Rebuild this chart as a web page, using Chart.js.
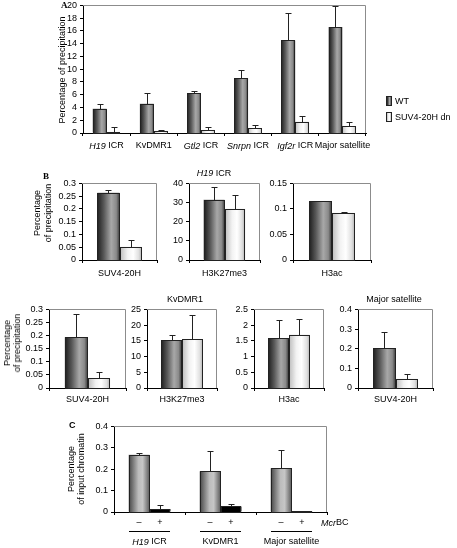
<!DOCTYPE html>
<html lang="en">
<head>
  <meta charset="UTF-8" />
  <title>SUV4-20H ChIP</title>
  <script src="https://cdn.jsdelivr.net/npm/chart.js"></script>
  <style>
    body { margin: 0; background: #fff; }
    #stage { position: relative; width: 457px; height: 548px; overflow: hidden; font-family: "Liberation Sans", Arial, sans-serif; font-size: 9px; color: #000; -webkit-font-smoothing: antialiased; }
    #stage canvas { position: absolute; }
    .t { position: absolute; white-space: nowrap; line-height: 1; z-index: 2; filter: grayscale(1); }
    .c { transform: translate(-50%, -50%); }
    .l { transform: translateY(-50%); }
    .yt { position: absolute; white-space: nowrap; text-align: center; line-height: 10px; z-index: 2; transform: translate(-50%, -50%) rotate(-90deg); }
    .letter { font-family: "Liberation Serif", serif; font-weight: bold; font-size: 9px; }
    .key { position: absolute; width: 6px; height: 10px; border: 1px solid #222; box-sizing: border-box; z-index: 2; }
  </style>
</head>
<body>
  <div id="stage">
    <div class="t letter" style="left:61px;top:1px">A</div>
    <div class="t letter" style="left:43px;top:172px">B</div>
    <div class="t" style="left:69px;top:421px;font-weight:bold;font-size:9px">C</div>

    <div class="t c" style="left:214px;top:173px"><i>H19</i> ICR</div>
    <div class="t c" style="left:185px;top:299px">KvDMR1</div>
    <div class="t c" style="left:394px;top:299px">Major satellite</div>

    <div class="yt" style="left:62px;top:70px">Percentage of precipitation</div>
    <div class="yt" style="left:43px;top:213px;line-height:11px">Percentage<br>of precipitation</div>
    <div class="yt" style="left:12px;top:343px">Percentage<br>of precipitation</div>
    <div class="yt" style="left:76px;top:469px">Percentage<br>of input chromatin</div>

    <div class="key" id="keyWT" style="left:386px;top:96px"></div>
    <div class="t l" style="left:395px;top:101px">WT</div>
    <div class="key" id="keyDn" style="left:386px;top:112px"></div>
    <div class="t l" style="left:395px;top:117px">SUV4-20H dn</div>
  </div>

  <script>
    // A: six loci, WT vs SUV4-20H dn (errors are the + half of the bar)
    const lociA = ['*H19* ICR', 'KvDMR1', '*Gtl2* ICR', '*Snrpn* ICR', '*Igf2r* ICR', 'Major satellite'];
    const wtA = [3.8, 4.6, 6.2, 8.6, 14.5, 16.6];
    const wtErrA = [0.7, 1.7, 0.45, 1.2, 4.3, 3.3];
    const dnA = [0.2, 0.35, 0.5, 0.8, 1.8, 1.05];
    const dnErrA = [0.7, 0.18, 0.4, 0.5, 0.9, 0.75];
    const maxA = 20, stepA = 2;

    // B: antibodies on H19 ICR, KvDMR1 and major satellite
    const antibodies = ['SUV4-20H', 'H3K27me3', 'H3ac'];
    const wtH19 = [0.263, 31.4, 0.115];
    const wtErrH19 = [0.011, 6.5, 0.0015];
    const dnH19 = [0.052, 26.7, 0.0925];
    const dnErrH19 = [0.026, 7.4, 0.0015];
    const maxH19 = [0.3, 40, 0.15];
    const stepH19 = [0.05, 10, 0.05];

    const wtKv = [0.194, 15.2, 1.575];
    const wtErrKv = [0.087, 1.7, 0.585];
    const dnKv = [0.038, 15.5, 1.7];
    const dnErrKv = [0.023, 7.7, 0.51];
    const maxKv = [0.3, 25, 2.5];
    const stepKv = [0.05, 5, 0.5];

    const wtMaj = [0.2025];
    const wtErrMaj = [0.085];
    const dnMaj = [0.047];
    const dnErrMaj = [0.026];
    const maxMaj = 0.4, stepMaj = 0.1;

    // C: McrBC digestion
    const lociC = ['*H19* ICR', 'KvDMR1', 'Major satellite'];
    const treatC = ['–', '+'];
    const minusC = [0.268, 0.191, 0.204];
    const minusErrC = [0.009, 0.092, 0.088];
    const plusC = [0.014, 0.026, 0.003];
    const plusErrC = [0.019, 0.011, 0.001];
    const maxC = 0.4, stepC = 0.1;

    // plot area boxes [left, top, right, bottom] on the page
    const boxA = [83, 5, 366, 133];
    const boxH19 = [[82, 183, 157, 260], [189, 183, 260, 260], [293, 183, 371, 260]];
    const boxKv = [[49, 309, 126, 388], [147, 309, 217, 388], [254, 309, 324, 388]];
    const boxMaj = [358, 309, 433, 388];
    const boxC = [114, 426, 327, 512];

    // cylinder-like shading of the bars
    const shadeWT = [[0, '#1c1c1c'], [0.3, '#595959'], [0.62, '#a8a8a8'], [0.84, '#8a8a8a'], [1, '#333']];
    const shadeDn = [[0, '#bcbcbc'], [0.35, '#f2f2f2'], [0.6, '#fff'], [0.85, '#e0e0e0'], [1, '#b0b0b0']];
    const shadeMinus = [[0, '#484848'], [0.45, '#bcbcbc'], [0.65, '#c6c6c6'], [1, '#555']];
    const shadeBlack = [[0, '#000'], [1, '#000']];

    const FONT = '"Liberation Sans", Arial, sans-serif';
    Chart.defaults.font.family = FONT;
    Chart.defaults.font.size = 9;
    Chart.defaults.color = '#000';

    const stage = document.getElementById('stage');
    const cssGrad = sh => `linear-gradient(to right, ${sh.map(([o, c]) => c + ' ' + o * 100 + '%').join(', ')})`;
    document.getElementById('keyWT').style.background = cssGrad(shadeWT);
    document.getElementById('keyDn').style.background = cssGrad(shadeDn);

    const fmt = v => String(+(+v).toFixed(3));

    // text with *italic* parts
    function drawRich(ctx, str, x, y, align) {
      const parts = str.split('*');
      const fonts = parts.map((p, i) => (i % 2 ? 'italic ' : '') + '9px ' + FONT);
      let w = 0;
      parts.forEach((p, i) => { ctx.font = fonts[i]; w += ctx.measureText(p).width; });
      let cx = align === 'left' ? x : x - w / 2;
      ctx.textAlign = 'left';
      ctx.textBaseline = 'middle';
      ctx.fillStyle = '#000';
      parts.forEach((p, i) => { ctx.font = fonts[i]; ctx.fillText(p, cx, y); cx += ctx.measureText(p).width; });
    }

    // shaded bars + upper error bars
    const barShade = {
      id: 'barShade',
      afterDatasetsDraw(chart) {
        const ctx = chart.ctx, ys = chart.scales.y;
        ctx.save();
        chart.data.datasets.forEach((ds, di) => {
          chart.getDatasetMeta(di).data.forEach((el, i) => {
            const p = el.getProps(['x', 'y', 'base', 'width'], true);
            const L = Math.round(p.x - p.width / 2), R = Math.round(p.x + p.width / 2);
            const T = Math.round(p.y), B = Math.round(p.base);
            const g = ctx.createLinearGradient(L, 0, R, 0);
            ds.shade.forEach(([o, c]) => g.addColorStop(o, c));
            ctx.fillStyle = g;
            ctx.fillRect(L, T, R - L, B - T);
            ctx.strokeStyle = '#222';
            ctx.lineWidth = 1;
            ctx.strokeRect(L + 0.5, T + 0.5, R - L - 1, B - T);
            const top = Math.round(ys.getPixelForValue(ds.data[i] + ds.errs[i])) + 0.5;
            const x = Math.round(p.x) + 0.5;
            ctx.beginPath();
            ctx.moveTo(x, T);
            ctx.lineTo(x, top);
            ctx.moveTo(x - 3, top);
            ctx.lineTo(x + 3, top);
            ctx.stroke();
          });
        });
        ctx.restore();
      }
    };

    // grey top/right border of the plot area
    const frame = {
      id: 'frame',
      afterDraw(chart) {
        const { left, top, right, bottom } = chart.chartArea;
        const ctx = chart.ctx;
        ctx.save();
        ctx.strokeStyle = '#8c8c8c';
        ctx.lineWidth = 1;
        ctx.beginPath();
        ctx.moveTo(left, Math.round(top) + 0.5);
        ctx.lineTo(Math.round(right) - 0.5, Math.round(top) + 0.5);
        ctx.lineTo(Math.round(right) - 0.5, bottom);
        ctx.stroke();
        ctx.restore();
      }
    };
    Chart.register(barShade, frame);

    // category labels of A (with italic gene names)
    const lociLabels = {
      id: 'lociLabels',
      afterDraw(chart) {
        const xs = chart.scales.x, b = chart.chartArea.bottom;
        chart.ctx.save();
        chart.data.labels.forEach((lab, i) => drawRich(chart.ctx, lab, xs.getPixelForValue(i), b + 13));
        chart.ctx.restore();
      }
    };

    // – / + signs, underlines and locus names of C
    const mcrMarks = {
      id: 'mcrMarks',
      afterDraw(chart) {
        const ctx = chart.ctx, xs = chart.scales.x, ca = chart.chartArea, b = ca.bottom;
        const m0 = chart.getDatasetMeta(0).data, m1 = chart.getDatasetMeta(1).data;
        ctx.save();
        chart.data.datasets.forEach((ds, di) => {
          chart.getDatasetMeta(di).data.forEach(el => drawRich(ctx, ds.label, el.x, b + 11));
        });
        ctx.strokeStyle = '#000';
        ctx.lineWidth = 1;
        chart.data.labels.forEach((lab, i) => {
          const a = m0[i], z = m1[i];
          ctx.beginPath();
          ctx.moveTo(Math.round(a.x - a.width / 2), b + 19.5);
          ctx.lineTo(Math.round(z.x + z.width / 2), b + 19.5);
          ctx.stroke();
          drawRich(ctx, lab, xs.getPixelForValue(i), b + 30);
        });
        drawRich(ctx, '*Mcr*BC', ca.right - 6, b + 11, 'left');
        ctx.restore();
      }
    };

    function makeBar(spec) {
      const [l, t, r, b] = spec.box;
      const yW = 30, padT = 8, padR = spec.padR || 6, xH = spec.xH || 22;
      const cv = document.createElement('canvas');
      cv.width = r - l + yW + padR;
      cv.height = b - t + padT + xH;
      cv.style.left = (l - yW) + 'px';
      cv.style.top = (t - padT) + 'px';
      stage.insertBefore(cv, stage.firstChild);
      return new Chart(cv, {
        type: 'bar',
        data: {
          labels: spec.labels,
          datasets: spec.sets.map(s => ({
            label: s.label, data: s.data, errs: s.errs, shade: s.shade,
            backgroundColor: s.color, borderWidth: 0,
            categoryPercentage: 0.59, barPercentage: 1
          }))
        },
        options: {
          responsive: false,
          animation: false,
          devicePixelRatio: 1,
          layout: { padding: { left: 0, top: padT, right: padR, bottom: 0 } },
          plugins: { legend: { display: false }, tooltip: { enabled: false } },
          scales: {
            x: {
              grid: { offset: true, drawOnChartArea: false, tickLength: 3, color: '#000' },
              border: { color: '#000' },
              ticks: { display: !spec.hideTicks, padding: spec.labelPad ?? 4, maxRotation: 0, autoSkip: false, color: '#000' },
              afterFit: s => { s.height = xH; }
            },
            y: {
              min: 0, max: spec.max,
              grid: { drawOnChartArea: false, tickLength: 3, color: '#000' },
              border: { color: '#000' },
              ticks: { stepSize: spec.step, autoSkip: false, padding: 3, color: '#000', callback: fmt },
              afterFit: s => { s.width = yW; }
            }
          }
        },
        plugins: spec.plugins || []
      });
    }

    const pair = (wt, wtErr, dn, dnErr) => [
      { label: 'WT', data: wt, errs: wtErr, shade: shadeWT, color: '#777' },
      { label: 'SUV4-20H dn', data: dn, errs: dnErr, shade: shadeDn, color: '#eee' }
    ];

    // panel A
    makeBar({ box: boxA, labels: lociA, sets: pair(wtA, wtErrA, dnA, dnErrA), max: maxA, step: stepA, hideTicks: true, plugins: [lociLabels] });

    // panel B, top row (H19 ICR) and bottom row (KvDMR1, major satellite)
    antibodies.forEach((ab, i) => {
      makeBar({ box: boxH19[i], labels: [ab], sets: pair([wtH19[i]], [wtErrH19[i]], [dnH19[i]], [dnErrH19[i]]), max: maxH19[i], step: stepH19[i], labelPad: 5 });
      makeBar({ box: boxKv[i], labels: [ab], sets: pair([wtKv[i]], [wtErrKv[i]], [dnKv[i]], [dnErrKv[i]]), max: maxKv[i], step: stepKv[i], labelPad: 3 });
    });
    makeBar({ box: boxMaj, labels: [antibodies[0]], sets: pair(wtMaj, wtErrMaj, dnMaj, dnErrMaj), max: maxMaj, step: stepMaj, labelPad: 3 });

    // panel C
    makeBar({
      box: boxC, labels: lociC, max: maxC, step: stepC, hideTicks: true, xH: 36, padR: 35,
      sets: [
        { label: treatC[0], data: minusC, errs: minusErrC, shade: shadeMinus, color: '#999' },
        { label: treatC[1], data: plusC, errs: plusErrC, shade: shadeBlack, color: '#000' }
      ],
      plugins: [mcrMarks]
    });
  </script>
</body>
</html>
